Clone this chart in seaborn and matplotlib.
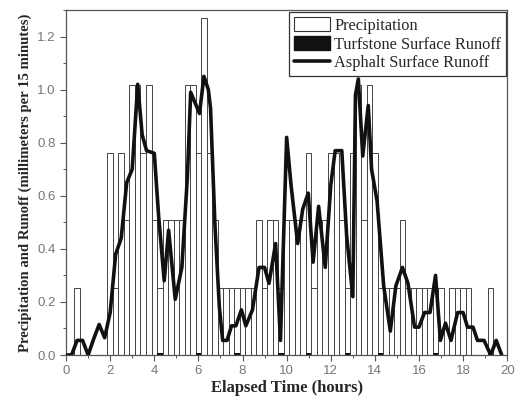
import numpy as np
import matplotlib
matplotlib.use("Agg")
import matplotlib.pyplot as plt
import seaborn as sns
from matplotlib.patches import Patch
from matplotlib.lines import Line2D
from matplotlib.ticker import MultipleLocator

# precipitation per 15 minute interval (mm), bar centres every 0.25 h
precip_hours = np.arange(0, 20.01, 0.25)
precip = [
    0, 0, 0.254, 0, 0, 0, 0, 0,                      # 0.00 - 1.75
    0.762, 0.254, 0.762, 0.508,                      # 2.00 - 2.75
    1.016, 1.016, 0.762, 1.016,                      # 3.00 - 3.75
    0.508, 0.254, 0.508, 0.508,                      # 4.00 - 4.75
    0.508, 0.508, 1.016, 1.016,                      # 5.00 - 5.75
    0.762, 1.27, 0.762, 0.508,                       # 6.00 - 6.75
    0.254, 0.254, 0.254, 0.254,                      # 7.00 - 7.75
    0.254, 0.254, 0.254, 0.508,                      # 8.00 - 8.75
    0.254, 0.508, 0.508, 0.254,                      # 9.00 - 9.75
    0.508, 0.508, 0.508, 0.508,                      # 10.00 - 10.75
    0.762, 0.254, 0.508, 0.508,                      # 11.00 - 11.75
    0.762, 0.762, 0.508, 0.254,                      # 12.00 - 12.75
    0.762, 1.016, 0.508, 1.016,                      # 13.00 - 13.75
    0.762, 0.254, 0.254, 0.254,                      # 14.00 - 14.75
    0.254, 0.508, 0.254, 0.254,                      # 15.00 - 15.75
    0.254, 0.254, 0.254, 0.254,                      # 16.00 - 16.75
    0.254, 0, 0.254, 0.254,                          # 17.00 - 17.75
    0.254, 0.254, 0, 0,                              # 18.00 - 18.75
    0, 0.254, 0, 0,                                  # 19.00 - 19.75
    0,                                               # 20.00
]

# turfstone runoff: almost nothing, a few tiny pulses
turf_hours = [4.25, 6.0, 7.75, 9.75, 11.0, 12.75, 14.25, 16.75]
turf_vals = [0.008, 0.008, 0.008, 0.008, 0.008, 0.008, 0.008, 0.008]

# asphalt runoff (mm per 15 min)
asph_hours = [0.0, 0.25, 0.5, 0.75, 1.0, 1.25, 1.5, 1.75, 2.0, 2.25, 2.5, 2.75,
              3.0, 3.25, 3.45, 3.65, 4.0, 4.2, 4.45, 4.65, 4.95, 5.25, 5.5,
              5.65, 5.85, 6.05, 6.25, 6.45, 6.55, 6.75, 6.95, 7.1, 7.3, 7.5,
              7.7, 7.95, 8.15, 8.45, 8.75, 9.0, 9.2, 9.5, 9.72, 10.0, 10.2,
              10.5, 10.73, 10.98, 11.2, 11.45, 11.75, 12.0, 12.2, 12.5, 12.72,
              13.0, 13.12, 13.25, 13.45, 13.7, 13.85, 14.1, 14.4, 14.7, 14.95,
              15.25, 15.5, 15.8, 16.0, 16.25, 16.5, 16.75, 16.97, 17.2, 17.45,
              17.75, 18.0, 18.2, 18.45, 18.65, 18.95, 19.25, 19.5, 19.75]
asph_vals = [0.0, 0.0, 0.055, 0.055, 0.0, 0.06, 0.115, 0.065, 0.16, 0.38, 0.44, 0.65,
             0.70, 1.02, 0.83, 0.77, 0.76, 0.52, 0.28, 0.47, 0.21, 0.33, 0.67,
             0.99, 0.95, 0.91, 1.05, 1.0, 0.93, 0.49, 0.18, 0.055, 0.055, 0.11,
             0.11, 0.17, 0.11, 0.17, 0.33, 0.33, 0.27, 0.42, 0.055, 0.82, 0.64,
             0.42, 0.55, 0.61, 0.35, 0.56, 0.33, 0.64, 0.77, 0.77, 0.45,
             0.22, 0.98, 1.04, 0.75, 0.94, 0.70, 0.58, 0.26, 0.09, 0.26,
             0.33, 0.27, 0.105, 0.105, 0.16, 0.16, 0.30, 0.055, 0.12, 0.055,
             0.16, 0.16, 0.105, 0.105, 0.055, 0.055, 0.0, 0.055, 0.0]

turf_full = [turf_vals[turf_hours.index(h)] if h in turf_hours else 0 for h in precip_hours]

sns.set_style("ticks")
plt.rcParams["font.family"] = ["Liberation Serif", "DejaVu Serif"]

fig = plt.figure(figsize=(5.16, 4.0), dpi=100)
ax = fig.add_axes([0.128, 0.1125, 0.855, 0.8625])

sns.barplot(x=precip_hours, y=precip, native_scale=True, width=1.0,
            color="white", edgecolor="#444444", linewidth=0.7,
            errorbar=None, ax=ax)
sns.barplot(x=precip_hours, y=turf_full, native_scale=True, width=1.0,
            color="#111111", linewidth=0, errorbar=None, ax=ax)
sns.lineplot(x=asph_hours, y=asph_vals, color="#111111", linewidth=2.6,
             ax=ax, zorder=5)

ax.set_xlim(0, 20)
ax.set_ylim(0, 1.3)
ax.xaxis.set_major_locator(MultipleLocator(2))
ax.xaxis.set_minor_locator(MultipleLocator(1))
ax.yaxis.set_major_locator(MultipleLocator(0.2))
ax.yaxis.set_minor_locator(MultipleLocator(0.1))
ax.set_xticks(np.arange(0, 21, 2))
ax.set_xticklabels([str(v) for v in range(0, 21, 2)])
ax.set_yticks(np.arange(0, 1.21, 0.2))
ax.set_yticklabels([f"{v:.1f}" for v in np.arange(0, 1.21, 0.2)])
ax.tick_params(axis="both", which="major", direction="out", length=4,
               width=0.8, color="#555555", labelsize=9.5, labelcolor="#777777")
ax.tick_params(axis="both", which="minor", direction="out", length=2.5,
               width=0.7, color="#555555")
for lab in ax.get_xticklabels() + ax.get_yticklabels():
    lab.set_family(["Liberation Sans", "DejaVu Sans"])

for s in ax.spines.values():
    s.set_visible(True)
    s.set_color("#555555")
    s.set_linewidth(0.9)

ax.set_xlabel("Elapsed Time (hours)", fontsize=12, fontweight="semibold", labelpad=2)
ax.set_ylabel("Precipitation and Runoff (millimeters per 15 minutes)",
              fontsize=10.6, fontweight="semibold", labelpad=4)

handles = [
    Patch(facecolor="white", edgecolor="#333333", linewidth=0.8, label="Precipitation"),
    Patch(facecolor="#111111", edgecolor="#111111", label="Turfstone Surface Runoff"),
    Line2D([], [], color="#111111", linewidth=2.6, label="Asphalt Surface Runoff"),
]
leg = ax.legend(handles=handles, loc="upper right", bbox_to_anchor=(0.997, 0.995),
                borderaxespad=0, frameon=True, fancybox=False, fontsize=11.8,
                handlelength=2.2, handleheight=1.0, handletextpad=0.25,
                labelspacing=0.12, borderpad=0.3)
leg.get_frame().set_edgecolor("#333333")
leg.get_frame().set_linewidth(0.9)
leg.get_frame().set_alpha(1)

fig.savefig("out.png", dpi=100)
